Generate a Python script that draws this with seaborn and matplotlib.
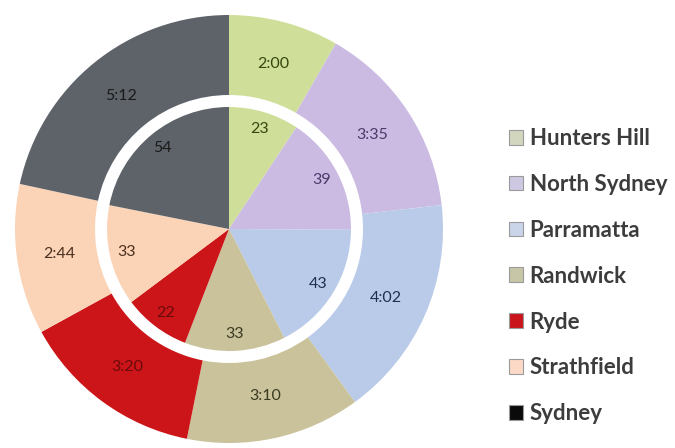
import matplotlib
matplotlib.use("Agg")
import matplotlib.pyplot as plt
import seaborn as sns
from matplotlib.patches import Patch

# Councils, inner-ring counts and outer-ring durations (h:mm)
suburbs = ["Hunters Hill", "North Sydney", "Parramatta", "Randwick",
           "Ryde", "Strathfield", "Sydney"]
inner_values = [23, 39, 43, 33, 22, 33, 54]
outer_labels = ["2:00", "3:35", "4:02", "3:10", "3:20", "2:44", "5:12"]


def to_minutes(s):
    h, m = s.split(":")
    return int(h) * 60 + int(m)


outer_minutes = [to_minutes(s) for s in outer_labels]

sns.set_style("white")
plt.rcParams["font.family"] = ["Lato", "DejaVu Sans"]

wedge_colors = sns.color_palette(["#cfdf9a", "#cbbbe2", "#b9cbe8", "#c9c29b",
                                  "#cc1519", "#fbd3b6", "#5e6369"])
text_colors = ["#34460e", "#4a3a6a", "#1f2f50", "#3a3a22",
               "#6a0a0a", "#4a3020", "#1a1a1a"]
legend_colors = ["#d3d6bf", "#cfc8e3", "#cad5ea", "#c7c6a6",
                 "#c8141a", "#fbd9c6", "#0a0a0a"]

W, H = 675, 448
fig = plt.figure(figsize=(W / 100, H / 100), dpi=100)
R, cx, cy = 214, 229, 229
ax = fig.add_axes([(cx - R) / W, (H - cy - R) / H, 2 * R / W, 2 * R / H])

ring_width = 80 / R
inner_radius = 122 / R

# outer ring: durations
_, outer_texts = ax.pie(outer_minutes, radius=1.0, colors=wedge_colors,
                        startangle=90, counterclock=False,
                        labels=outer_labels, labeldistance=0.8,
                        wedgeprops=dict(width=ring_width, linewidth=0))
# inner pie: counts
_, inner_texts = ax.pie(inner_values, radius=inner_radius, colors=wedge_colors,
                        startangle=90, counterclock=False,
                        labels=[str(v) for v in inner_values],
                        labeldistance=0.86,
                        wedgeprops=dict(linewidth=0))

for texts in (outer_texts, inner_texts):
    for t, c in zip(texts, text_colors):
        t.set_ha("center")
        t.set_va("center")
        t.set_color(c)
        t.set_fontsize(11.5)

ax.set_xlim(-1, 1)
ax.set_ylim(-1, 1)
ax.set_aspect("equal")
ax.axis("off")

handles = [Patch(facecolor=c, edgecolor="#9a9a9a", linewidth=0.8)
           for c in legend_colors]
leg = fig.legend(handles, suburbs, loc="upper left",
                 bbox_to_anchor=(509 / W, 1 - 128 / H),
                 frameon=False, borderaxespad=0, borderpad=0,
                 handlelength=0.65, handleheight=0.65, handletextpad=0.28,
                 labelspacing=1.12,
                 prop=dict(family=["Lato", "DejaVu Sans"], weight="bold", size=16))
for t in leg.get_texts():
    t.set_color("#3c3c3c")

fig.savefig("out.png", dpi=100, facecolor="white")
